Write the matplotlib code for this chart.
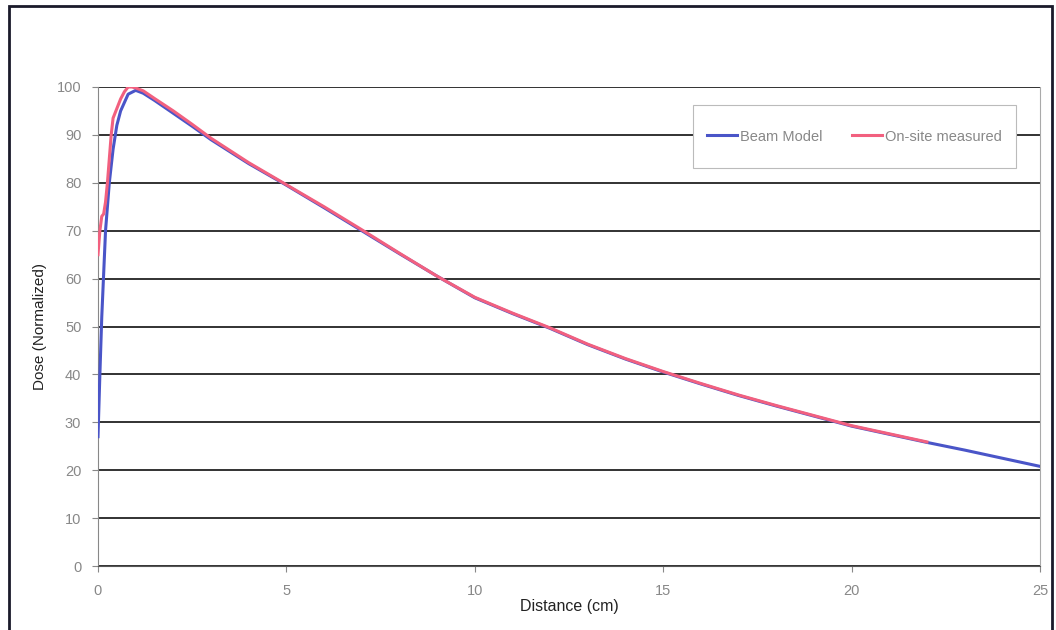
import matplotlib
matplotlib.use("Agg")
import matplotlib.pyplot as plt
from matplotlib.patches import Rectangle

plt.rcParams['font.family'] = ['Liberation Sans', 'DejaVu Sans']

# Beam model curve
model_x = [0.0, 0.05, 0.1, 0.2, 0.3, 0.4, 0.5, 0.6, 0.8, 1.0, 1.2, 1.5, 2.0, 2.5, 3.0, 4.0, 5.0, 6.0, 7.0,
           8.0, 9.0, 10.0, 11.0, 12.0, 13.0, 14.0, 15.0, 16.0, 17.0, 18.0, 19.0, 20.0, 21.0, 22.0,
           23.0, 24.0, 25.0]
model_y = [27, 40, 52, 70, 80, 87, 92, 95, 98.5, 99.3, 98.7, 97.2, 94.5, 91.8, 89, 84, 79.5, 74.8, 70,
           65.2, 60.5, 56, 52.7, 49.6, 46.2, 43.2, 40.5, 38, 35.6, 33.4, 31.3, 29.2, 27.5, 25.8,
           24.2, 22.5, 20.8]

# On-site measured curve
meas_x = [0.0, 0.05, 0.1, 0.15, 0.2, 0.25, 0.3, 0.35, 0.4, 0.5, 0.6, 0.7, 0.8, 0.9, 1.0, 1.2, 1.5, 2.0,
          2.5, 3.0, 4.0, 5.0, 6.0, 7.0, 8.0, 9.0, 10.0, 11.0, 12.0, 13.0, 14.0, 15.0, 16.0, 17.0,
          18.0, 19.0, 20.0, 21.0, 22.0]
meas_y = [65, 70, 73, 73.5, 76, 80, 85, 90, 93.5, 95.5, 97.5, 99, 100, 100, 99.8, 99.2, 97.6, 95,
          92.2, 89.3, 84.2, 79.6, 75, 70.2, 65.3, 60.5, 56.1, 52.8, 49.7, 46.3, 43.3, 40.6, 38.1, 35.7,
          33.5, 31.4, 29.3, 27.6, 25.9]

x_ticks = [0, 5, 10, 15, 20, 25]
y_ticks = [0, 10, 20, 30, 40, 50, 60, 70, 80, 90, 100]

fig = plt.figure(figsize=(10.56, 6.30), dpi=100)
ax = fig.add_axes([98/1056, 1-566/630, (1040-98)/1056, (566-87)/630])

for yv in y_ticks:
    ax.axhline(yv, color='#222222', lw=1.3, zorder=1)

ax.plot(model_x, model_y, color='#4a55c8', lw=2.2, label='Beam Model', zorder=3)
ax.plot(meas_x, meas_y, color='#f2607f', lw=2.2, label='On-site measured', zorder=4)

ax.set_xlim(0, 25)
ax.set_ylim(0, 100)
ax.set_xticks(x_ticks)
ax.set_yticks(y_ticks)
ax.tick_params(axis='both', colors='#888888', labelcolor='#888888', labelsize=10.5, length=4, direction='out')
ax.tick_params(axis='x', pad=9)
ax.tick_params(axis='y', pad=8)
ax.spines['top'].set_visible(False)
ax.spines['right'].set_color('#aaaaaa')
ax.spines['right'].set_linestyle((0, (2, 1)))
ax.spines['left'].set_color('#888888')
ax.spines['bottom'].set_color('#555555')

ax.set_xlabel('Distance (cm)', fontsize=11.5, color='#222222', labelpad=1)
ax.set_ylabel('Dose (Normalized)', fontsize=11, color='#222222', labelpad=7)

# legend box (frame drawn separately)
bx0, bx1 = (693-98)/942, (1016-98)/942
by0, by1 = (566-168)/479, (566-105)/479
ax.add_patch(Rectangle((bx0, by0), bx1-bx0, by1-by0, transform=ax.transAxes,
                       facecolor='white', edgecolor='#bbbbbb', lw=0.8, zorder=9))
leg = ax.legend(loc='center', bbox_to_anchor=((bx0+bx1)/2, (by0+by1)/2), ncol=2,
                frameon=False, fontsize=10.5, handlelength=2.05,
                borderaxespad=0, borderpad=0.0, columnspacing=2.0, labelcolor='#888888',
                handletextpad=0.2)
leg.set_zorder(10)

fig.patches.append(Rectangle((9/1056, -0.05), (1052-9)/1056, 1.05 - 6/630, transform=fig.transFigure,
                             fill=False, edgecolor='#1a1a2a', lw=2))

fig.savefig('out.png', dpi=100)
